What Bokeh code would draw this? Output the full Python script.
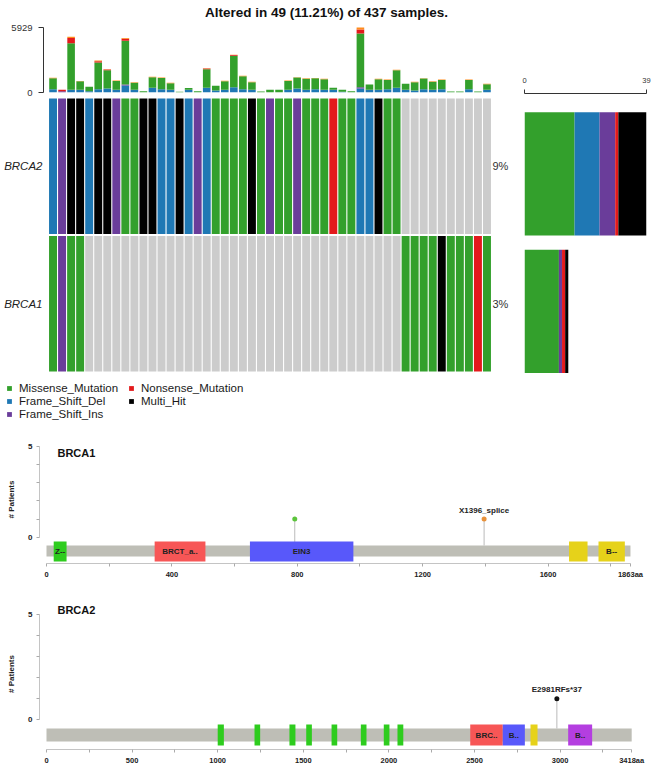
from bokeh.plotting import figure
from bokeh.layouts import column, row
from bokeh.models import (ColumnDataSource, Range1d, FactorRange, LinearAxis,
                          CategoricalAxis, FixedTicker, Legend, LegendItem, Label)
from bokeh.embed import file_html
from bokeh.resources import INLINE
from bokeh.core.properties import value

FONT = "Liberation Sans"

# ---------------- oncoplot data ----------------
total_samples = 437
genes = ["BRCA2", "BRCA1"]
legend_classes = ["Missense_Mutation", "Frame_Shift_Del", "Frame_Shift_Ins",
                  "Nonsense_Mutation", "Multi_Hit"]
call_codes = {"M": "Missense_Mutation", "D": "Frame_Shift_Del", "I": "Frame_Shift_Ins",
              "N": "Nonsense_Mutation", "H": "Multi_Hit"}
brca2_calls = "DIHHDHHIMM" "HHDDHDIDMM" "MMHMIMMIMM" "MNMMDDHMM-" "---------"
brca1_calls = "MIMM------" "----------" "----------" "---------M" "MMMHMMMNM"

# per-sample variant counts (top bar plot), stacked bottom -> top
tmb_classes = ["Frame_Shift_Del", "Frame_Shift_Ins", "Missense_Mutation",
               "Nonsense_Mutation", "Splice_Site"]
tmb_frame_shift_del = [300, 0, 240, 240, 120, 300, 360, 240, 640, 240,
                       0, 430, 300, 240, 0, 240, 0, 430, 180, 240,
                       490, 300, 240, 0, 0, 0, 240, 360, 240, 300,
                       240, 240, 60, 0, 360, 240, 240, 300, 430, 240,
                       180, 300, 240, 300, 0, 0, 300, 0, 240]
tmb_frame_shift_ins = [0, 120, 0, 0, 0, 0, 0, 0, 90, 0,
                       0, 0, 0, 0, 0, 0, 0, 0, 0, 0,
                       0, 0, 0, 0, 0, 0, 0, 0, 0, 0,
                       0, 0, 0, 0, 120, 0, 0, 0, 0, 0,
                       0, 0, 0, 0, 0, 0, 0, 0, 0]
tmb_missense = [1000, 0, 4250, 780, 400, 2440, 1670, 800, 4000, 650,
                120, 950, 1020, 600, 60, 160, 120, 1700, 430, 790,
                2860, 1180, 690, 90, 240, 240, 810, 1000, 1020, 990,
                970, 190, 180, 120, 4904, 490, 970, 850, 1600, 550,
                750, 970, 750, 850, 90, 90, 850, 90, 510]
tmb_nonsense = [0, 130, 485, 0, 0, 120, 60, 0, 180, 0,
                0, 0, 0, 0, 0, 0, 0, 60, 0, 0,
                60, 0, 0, 0, 0, 0, 0, 0, 0, 0,
                0, 0, 0, 0, 365, 0, 0, 0, 0, 0,
                0, 0, 0, 0, 0, 0, 0, 0, 0]
tmb_splice_site = [40, 0, 120, 40, 0, 60, 40, 50, 60, 50,
                   0, 50, 50, 40, 0, 0, 0, 30, 0, 40,
                   30, 40, 40, 0, 0, 0, 40, 40, 40, 40,
                   40, 0, 0, 0, 180, 0, 40, 40, 40, 0,
                   40, 40, 40, 40, 0, 0, 40, 0, 40]

# ---------------- lollipop data ----------------
brca1_length = 1863
brca1_dom_start = [23, 345, 649, 1667, 1761]
brca1_dom_end = [64, 507, 979, 1726, 1845]
brca1_dom_label = ["Z--", "BRCT_a..", "EIN3", "", "B--"]
brca1_mut_pos = [792, 1396]
brca1_mut_count = [1, 1]
brca1_mut_label = ["", "X1396_splice"]

brca2_length = 3418
brca2_dom_start = [1000, 1215, 1419, 1517, 1665, 1836, 1970, 2050, 2475, 2665, 2827, 3047]
brca2_dom_end = [1036, 1248, 1454, 1550, 1698, 1869, 2003, 2084, 2665, 2794, 2868, 3187]
brca2_dom_label = ["", "", "", "", "", "", "", "", "BRC..", "B..", "", "B.."]
brca2_mut_pos = [2981]
brca2_mut_count = [1]
brca2_mut_label = ["E2981RFs*37"]

# ---------------- styles ----------------
COLORS = {"Missense_Mutation": "#33A02C", "Frame_Shift_Del": "#1F78B4",
          "Frame_Shift_Ins": "#6A3D9A", "Nonsense_Mutation": "#E31A1C",
          "Multi_Hit": "#000000", "Splice_Site": "#FF8C1A"}
NO_CALL = "#CCCCCC"
brca1_dom_color = ["#2ECC1E", "#F75656", "#5858FA", "#E6D21A", "#E6D21A"]
brca1_mut_color = ["#5CC43C", "#E8913A"]
brca2_dom_color = ["#2ECC1E"] * 8 + ["#F75656", "#5858FA", "#E6D21A", "#B43EE0"]
brca2_mut_color = ["#111111"]

COMMON = dict(output_backend="svg", toolbar_location=None, outline_line_color=None)
COL_PX = 443 / 49  # pixel width of one sample column

n = len(brca2_calls)
calls = {"BRCA2": brca2_calls, "BRCA1": brca1_calls}
altered = [i for i in range(n) if any(calls[g][i] in call_codes for g in genes)]
n_alt = len(altered)
title_text = f"Altered in {n_alt} ({100 * n_alt / total_samples:.2f}%) of {total_samples} samples."

# ---------------- top bar plot ----------------
tmb_data = dict(x=[i + 0.5 for i in range(n)])
tmb_lists = [tmb_frame_shift_del, tmb_frame_shift_ins, tmb_missense, tmb_nonsense, tmb_splice_site]
for c, v in zip(tmb_classes, tmb_lists):
    tmb_data[c] = v
tmb_max = max(sum(t) for t in zip(*tmb_lists))
x_lo = -5 / COL_PX
pT = figure(width=516, height=97, x_range=Range1d(x_lo, n),
            y_range=Range1d(0, tmb_max * 92 / 65), x_axis_type=None, y_axis_type=None,
            min_border_left=43, min_border_right=25, min_border_top=0, min_border_bottom=5,
            **COMMON)
pT.vbar_stack(tmb_classes, x="x", width=0.84, source=ColumnDataSource(tmb_data),
              fill_color=[COLORS[c] for c in tmb_classes], line_color=None)
axT = LinearAxis(bounds=(0, tmb_max), ticker=FixedTicker(ticks=[0, tmb_max]),
                 axis_line_color="#333333", major_tick_line_color="#333333",
                 major_tick_out=5, major_tick_in=0, major_label_standoff=6,
                 major_label_text_font=FONT, major_label_text_font_size="9.5px",
                 major_label_text_color="#333333")
pT.add_layout(axT, "left")
pT.add_layout(Label(x=(326 - 48) / COL_PX, y=tmb_max * (92 - 11.5) / 65, text=title_text,
                    text_align="center", text_baseline="middle", text_font=FONT,
                    text_font_size="13.5px", text_font_style="bold", text_color="#111111"))

# ---------------- oncoplot ----------------
xs, ys, cs = [], [], []
for g in genes:
    for i, c in enumerate(calls[g]):
        xs.append(i + 0.5)
        ys.append(g)
        cs.append(COLORS[call_codes[c]] if c in call_codes else NO_CALL)
pct = [f"{round(100 * sum(c in call_codes for c in calls[g]) / total_samples)}%" for g in genes]
pO = figure(width=516, height=278, x_range=Range1d(x_lo, n),
            y_range=FactorRange(factors=genes[::-1]), x_axis_type=None, y_axis_type=None,
            min_border_left=43, min_border_right=25, min_border_top=0, min_border_bottom=3,
            **COMMON)
pO.extra_y_ranges = {"pct": FactorRange(factors=pct[::-1])}
pO.rect(x=xs, y=ys, width=0.88, height=0.985, fill_color=cs, line_color=None)
axG = CategoricalAxis(axis_line_color=None, major_tick_line_color=None, major_tick_out=0,
                      major_tick_in=0, major_label_standoff=1, major_label_text_font=FONT,
                      major_label_text_font_size="11.5px", major_label_text_font_style="italic",
                      major_label_text_color="#222222")
pO.add_layout(axG, "left")
axP = CategoricalAxis(y_range_name="pct", axis_line_color=None, major_tick_line_color=None,
                      major_tick_out=0, major_tick_in=0, major_label_standoff=1,
                      major_label_text_font=FONT, major_label_text_font_size="11px",
                      major_label_text_color="#333333")
pO.add_layout(axP, "right")

# ---------------- side bar plot ----------------
side = dict(y=[2, 1])
for c in legend_classes:
    side[c] = [sum(1 for ch in calls[g] if call_codes.get(ch) == c) for g in genes]
side_max = max(sum(side[c][k] for c in legend_classes) for k in range(len(genes)))
pR = figure(width=138, height=375, x_range=Range1d(0, side_max), y_range=Range1d(0.535, 2.583),
            x_axis_type=None, y_axis_type=None,
            min_border_left=8, min_border_right=8, min_border_top=93, min_border_bottom=0,
            **COMMON)
pR.hbar_stack(legend_classes, y="y", height=0.895, source=ColumnDataSource(side),
              fill_color=[COLORS[c] for c in legend_classes], line_color=None)
axR = LinearAxis(bounds=(0, side_max), ticker=FixedTicker(ticks=[0, side_max]),
                 axis_line_color="#333333", major_tick_line_color="#333333",
                 major_tick_out=4, major_tick_in=0, major_label_standoff=7,
                 major_label_text_font=FONT, major_label_text_font_size="7.5px",
                 major_label_text_color="#333333")
pR.add_layout(axR, "above")

# ---------------- legend ----------------
pLg = figure(width=654, height=50, x_range=Range1d(0, 1), y_range=Range1d(0, 1),
             x_axis_type=None, y_axis_type=None, min_border=0, **COMMON)
rends = {c: pLg.quad(left=[2], right=[3], top=[3], bottom=[2], fill_color=COLORS[c],
                     line_color=None) for c in legend_classes}
for items, loc in ((legend_classes[:3], (6, 4.5)), (legend_classes[3:], (128, 17.5))):
    lg = Legend(items=[LegendItem(label=c, renderers=[rends[c]]) for c in items],
                location=loc, orientation="vertical", padding=0, margin=0, spacing=0,
                glyph_width=6, glyph_height=6, label_standoff=7, label_height=13,
                label_text_font=FONT, label_text_font_size="11.5px",
                label_text_color="#1A1A1A", border_line_color=None,
                background_fill_alpha=0)
    pLg.add_layout(lg)


# ---------------- lollipops ----------------
def lollipop(gene, length, tick_step, label_step, dstart, dend, dlabel, dcolor,
             mpos, mcount, mlabel, mcolor, height, mb_top, mb_bottom,
             xr, yr, bar_y, dom_y, title_xy):
    p = figure(width=654, height=height, x_range=Range1d(*xr), y_range=Range1d(*yr),
               x_axis_type=None, y_axis_type=None,
               min_border_left=39, min_border_right=8, min_border_top=mb_top,
               min_border_bottom=mb_bottom, **COMMON)
    p.quad(left=[0], right=[length], bottom=[bar_y[0]], top=[bar_y[1]],
           fill_color="#BEBEB6", line_color=None)
    p.segment(x0=mpos, y0=[bar_y[1]] * len(mpos), x1=mpos, y1=mcount,
              line_color="#BBBBBB", line_width=1)
    p.quad(left=dstart, right=dend, bottom=[dom_y[0]] * len(dstart),
           top=[dom_y[1]] * len(dstart), fill_color=dcolor, line_color=None)
    p.text(x=[(a + b) / 2 for a, b in zip(dstart, dend)], y=[(dom_y[0] + dom_y[1]) / 2] * len(dstart),
           text=dlabel, text_align="center", text_baseline="middle",
           text_font=value(FONT), text_font_size="8px", text_font_style="bold",
           text_color="#222222")
    p.scatter(x=mpos, y=mcount, size=5, fill_color=mcolor, line_color=None)
    p.text(x=mpos, y=mcount, text=mlabel, y_offset=-9, text_align="center",
           text_baseline="middle", text_font=value(FONT), text_font_size="8px",
           text_font_style="bold", text_color="#222222")
    ticks = list(range(0, length, tick_step)) + [length]
    over = {t: (str(t) if t % label_step == 0 else "") for t in ticks}
    over[length] = f"{length}aa"
    ax_x = LinearAxis(bounds=(0, length), ticker=FixedTicker(ticks=ticks),
                      major_label_overrides=over, axis_line_color="#C4C4C4",
                      major_tick_line_color="#AAAAAA", major_tick_out=3, major_tick_in=0,
                      major_label_standoff=3, major_label_text_font=FONT,
                      major_label_text_font_size="7.5px", major_label_text_font_style="bold",
                      major_label_text_color="#222222")
    p.add_layout(ax_x, "below")
    ymax = 5
    ax_y = LinearAxis(bounds=(0, ymax), ticker=FixedTicker(ticks=list(range(0, ymax + 1))),
                      major_label_overrides={k: "" for k in range(1, ymax)},
                      axis_line_color="#C4C4C4", major_tick_line_color="#AAAAAA",
                      major_tick_out=3, major_tick_in=0, major_label_standoff=4,
                      major_label_text_font=FONT, major_label_text_font_size="8px",
                      major_label_text_font_style="bold", major_label_text_color="#222222",
                      axis_label="# Patients", axis_label_standoff=9,
                      axis_label_text_font=FONT, axis_label_text_font_size="8px",
                      axis_label_text_font_style="bold", axis_label_text_color="#222222")
    p.add_layout(ax_y, "left")
    p.add_layout(Label(x=title_xy[0], y=title_xy[1], text=gene, text_baseline="middle",
                       text_font=FONT, text_font_size="11px", text_font_style="bold",
                       text_color="#111111"))
    return p


pL1 = lollipop("BRCA1", brca1_length, 200, 400, brca1_dom_start, brca1_dom_end,
               brca1_dom_label, brca1_dom_color, brca1_mut_pos, brca1_mut_count,
               brca1_mut_label, brca1_mut_color, 160, 10, 22,
               (-22.33, 1914.1), (-1.445, 5.588), (-1.06, -0.456), (-1.335, -0.236),
               (35, 4.6))
pL2 = lollipop("BRCA2", brca2_length, 250, 500, brca2_dom_start, brca2_dom_end,
               brca2_dom_label, brca2_dom_color, brca2_mut_pos, brca2_mut_count,
               brca2_mut_label, brca2_mut_color, 184, 13, 20,
               (-40.9, 3504.5), (-1.414, 5.776), (-1.033, -0.414), (-1.224, -0.224),
               (64, 5.25))

layout = column(row(column(pT, pO, spacing=0), pR, spacing=0), pLg,
                column(pL1, pL2, spacing=0), spacing=0)
open("out.html", "w").write(file_html(layout, INLINE))
